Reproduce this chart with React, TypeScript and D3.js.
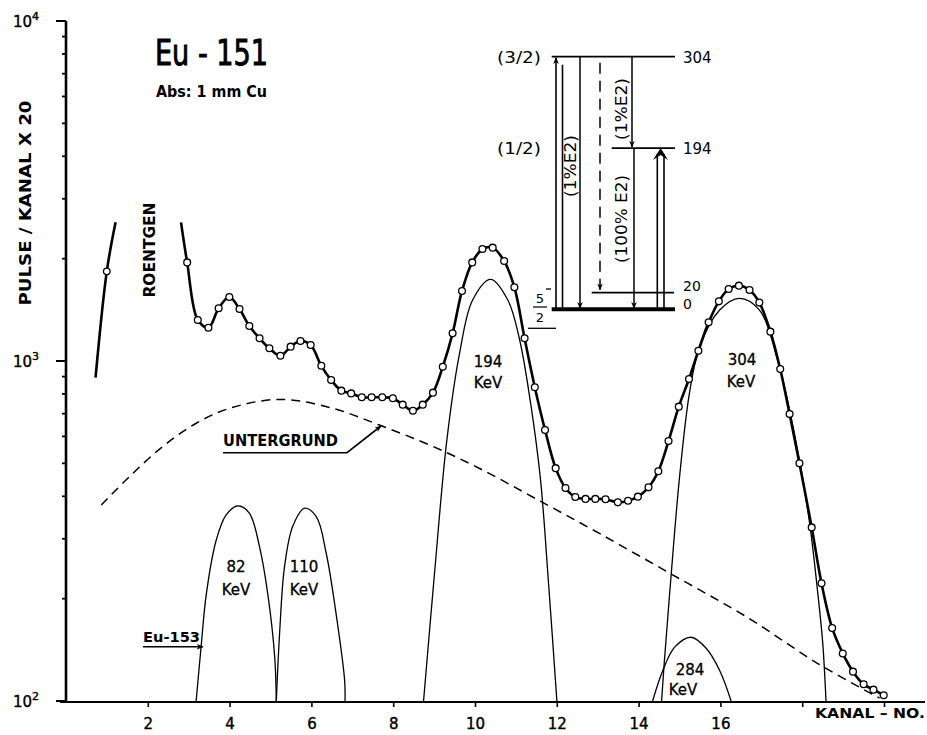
import React from "react";
import * as d3 from "d3";

// ---------- data ----------
const xTicks = [2, 4, 6, 8, 10, 12, 14, 16, 18, 20];
const xTickLabels = ["2", "4", "6", "8", "10", "12", "14", "16"];
const yMajor = [100, 1000, 10000];
const yMajorExp = ["2", "3", "4"];
const yMinor = [200, 300, 400, 500, 600, 700, 800, 900, 2000, 3000, 4000, 5000, 6000, 7000, 8000, 9000];

// measured spectrum (Eu-151)
const mainChannels = [2.95, 3.21, 3.47, 3.72, 3.98, 4.23, 4.47, 4.72, 4.96, 5.23, 5.48, 5.72, 5.97, 6.23, 6.47, 6.72, 6.96, 7.22, 7.46, 7.72, 7.98, 8.22, 8.47, 8.71, 8.96, 9.2, 9.44, 9.67, 9.92, 10.17, 10.42, 10.7, 10.95, 11.2, 11.45, 11.7, 11.96, 12.2, 12.44, 12.69, 12.93, 13.18, 13.48, 13.73, 13.97, 14.23, 14.47, 14.72, 14.97, 15.22, 15.45, 15.7, 15.95, 16.19, 16.44, 16.7, 16.94, 17.21, 17.45, 17.68, 17.92, 18.22, 18.46, 18.72, 18.98, 19.23, 19.49, 19.73, 19.98];
const mainCounts = [1950, 1320, 1253, 1429, 1543, 1422, 1268, 1166, 1090, 1036, 1102, 1145, 1114, 968, 879, 818, 803, 782, 782, 782, 777, 744, 714, 744, 807, 962, 1206, 1607, 1950, 2135, 2155, 1968, 1648, 1166, 837, 627, 484, 423, 398, 393, 393, 392, 384, 388, 399, 425, 474, 582, 734, 885, 1072, 1299, 1498, 1628, 1666, 1617, 1485, 1220, 947, 698, 500, 324, 222, 164, 138, 122, 112, 108, 104];
const mainStartChannel = 2.8;
const mainStartCount = 2558;

// Roentgen segment
const xrayChannels = [0.71, 0.985, 1.2];
const xrayCounts = [893, 1835, 2558];

// background (Untergrund)
const bgChannels = [0.85, 1.54, 2.35, 3.17, 3.99, 5.21, 6.51, 7.65, 8.88, 10.1, 11.5, 13.03, 14.82, 16.62, 18.41, 19.88];
const bgCounts = [377, 457, 560, 656, 726, 771, 726, 648, 566, 483, 392, 311, 235, 177, 128, 102];

// component peaks
const p82Channels = [3.17, 3.29, 3.42, 3.66, 3.9, 4.19, 4.47, 4.72, 4.92, 5.09, 5.13];
const p82Counts = [100, 144, 207, 297, 352, 375, 357, 284, 207, 135, 100];
const p110Channels = [5.13, 5.21, 5.33, 5.53, 5.82, 6.11, 6.35, 6.59, 6.8, 6.81];
const p110Counts = [100, 158, 248, 326, 369, 348, 272, 181, 115, 100];
const p194Channels = [8.73, 9.0, 9.3, 9.61, 9.93, 10.37, 10.79, 11.08, 11.36, 11.59, 11.78, 11.99];
const p194Counts = [100, 239, 586, 1053, 1512, 1739, 1512, 1153, 734, 447, 227, 100];
const p304Channels = [14.55, 14.62, 14.78, 14.99, 15.23, 15.48, 15.97, 16.45, 16.94, 17.43, 17.68, 17.92, 18.17, 18.37, 18.49, 18.57];
const p304Counts = [100, 132, 232, 457, 803, 1102, 1413, 1529, 1413, 962, 717, 511, 333, 207, 148, 100];
const p284Channels = [14.33, 14.58, 14.87, 15.27, 15.64, 15.97, 16.25];
const p284Counts = [100, 123, 144, 154, 143, 123, 100];

// level scheme
const levelEnergies = [304, 194, 20, 0];
const levelLabels = ["304", "194", "20", "0"];
const levelSpins = ["(3/2)", "(1/2)", "", ""];

const FONT = "'DejaVu Sans', sans-serif";

function zip(a: number[], b: number[]): [number, number][] {
  return a.map((v, i) => [v, b[i]]);
}

export default function App() {
  const x = d3.scaleLinear().domain([0, 20]).range([66.5, 884.5]);
  const y = d3.scaleLog().domain([100, 10000]).range([701, 21]);
  const ly = d3.scaleLinear().domain([0, 304]).range([309.3, 56.7]);

  const line = d3
    .line<[number, number]>()
    .x((d) => x(d[0]))
    .y((d) => y(d[1]))
    .curve(d3.curveCatmullRom.alpha(0.5));

  const mainPts = zip(mainChannels, mainCounts);
  const mainPath = line([[mainStartChannel, mainStartCount], ...mainPts]) || "";
  const xrayPts = zip(xrayChannels, xrayCounts);
  const xrayPath = line(xrayPts) || "";
  const bgPath = line(zip(bgChannels, bgCounts)) || "";
  const peaks = [
    zip(p82Channels, p82Counts),
    zip(p110Channels, p110Counts),
    zip(p194Channels, p194Counts),
    zip(p304Channels, p304Counts),
    zip(p284Channels, p284Counts),
  ];

  const axisX = 66;
  const axisY = 702;

  const levelExt: Record<number, [number, number]> = {
    304: [551.7, 675],
    194: [611.7, 675],
    20: [591.7, 674],
    0: [551.7, 675],
  };
  const levelLabelY: Record<number, number> = { 304: 6, 194: 6, 20: -1.5, 0: 0 };

  return (
    <svg width={927} height={735} style={{ position: "absolute", left: 0, top: 0, background: "#fff" }} fontFamily={FONT}>
      <defs>
        <marker id="ah" viewBox="0 0 10 10" refX="9" refY="5" markerWidth="7" markerHeight="9" orient="auto" markerUnits="userSpaceOnUse">
          <path d="M0,1 L10,5 L0,9 L3,5 Z" fill="#000" />
        </marker>
      </defs>
      <rect width={927} height={735} fill="#fff" />

      {/* axes */}
      <line x1={axisX} y1={y(10000)} x2={axisX} y2={axisY} stroke="#000" strokeWidth={2.6} />
      <line x1={60} y1={axisY} x2={925} y2={axisY} stroke="#000" strokeWidth={2.2} />
      {yMajor.map((v) => (
        <line key={"ym" + v} x1={axisX - 10} x2={axisX} y1={y(v)} y2={y(v)} stroke="#000" strokeWidth={2} />
      ))}
      {yMinor.map((v) => (
        <line key={"yn" + v} x1={axisX - 4} x2={axisX} y1={y(v)} y2={y(v)} stroke="#000" strokeWidth={1.8} />
      ))}
      {xTicks.map((t) => (
        <line key={"xt" + t} x1={x(t)} x2={x(t)} y1={axisY} y2={axisY + 5} stroke="#000" strokeWidth={1.6} />
      ))}
      {xTickLabels.map((l) => (
        <text key={"xl" + l} x={x(+l)} y={729} textAnchor="middle" fontSize={15} stroke="#000" strokeWidth={0.4}>
          {l}
        </text>
      ))}
      <text x={815} y={718} fontSize={14.5} fontWeight="bold" textLength={110} lengthAdjust="spacingAndGlyphs">
        KANAL – NO.
      </text>
      {yMajor.map((v, i) => (
        <text key={"yl" + v} x={13} y={y(v) + 6} fontSize={15} stroke="#000" strokeWidth={0.4}>
          10
          <tspan dy={-7} fontSize={11}>
            {yMajorExp[i]}
          </tspan>
        </text>
      ))}
      <text transform="translate(31,203) rotate(-90)" textAnchor="middle" fontSize={15} fontWeight="bold" textLength={205} lengthAdjust="spacingAndGlyphs">
        PULSE / KANAL  X  20
      </text>

      {/* background */}
      <path d={bgPath} fill="none" stroke="#000" strokeWidth={1.5} strokeDasharray="9,6" />

      {/* component peaks */}
      {peaks.map((p, i) => (
        <path key={"pk" + i} d={line(p) || ""} fill="none" stroke="#000" strokeWidth={1.3} />
      ))}

      {/* roentgen segment */}
      <path d={xrayPath} fill="none" stroke="#000" strokeWidth={2.6} />
      <circle cx={x(xrayPts[1][0])} cy={y(xrayPts[1][1])} r={3.3} fill="#fff" stroke="#000" strokeWidth={1.3} />

      {/* main spectrum */}
      <path d={mainPath} fill="none" stroke="#000" strokeWidth={2.6} />
      {mainPts.map((d, i) => (
        <circle key={"c" + i} cx={x(d[0])} cy={y(d[1])} r={3.4} fill="#fff" stroke="#000" strokeWidth={1.3} />
      ))}

      {/* titles */}
      <text x={155} y={65} fontSize={36} textLength={113} lengthAdjust="spacingAndGlyphs" stroke="#000" strokeWidth={1}>
        Eu - 151
      </text>
      <text x={156} y={97} fontSize={15} fontWeight="bold" textLength={111} lengthAdjust="spacingAndGlyphs">
        Abs:  1 mm Cu
      </text>
      <text transform="translate(155,250) rotate(-90)" textAnchor="middle" fontSize={15} fontWeight="bold" textLength={95} lengthAdjust="spacingAndGlyphs">
        ROENTGEN
      </text>

      {/* untergrund label */}
      <text x={223} y={446} fontSize={15} textLength={115} lengthAdjust="spacingAndGlyphs" fontWeight="bold">
        UNTERGRUND
      </text>
      <polyline points={`223,452.7 347,452.7 381,426`} fill="none" stroke="#000" strokeWidth={1.6} markerEnd="url(#ah)" />

      {/* Eu-153 label */}
      <text x={143} y={641.5} fontSize={14} fontWeight="bold" textLength={57} lengthAdjust="spacingAndGlyphs">
        Eu-153
      </text>
      <line x1={143} y1={646.7} x2={203} y2={646.7} stroke="#000" strokeWidth={1.6} markerEnd="url(#ah)" />

      {/* peak labels */}
      {[
        { t: "82", cx: 236, by: 571.7 },
        { t: "110", cx: 304, by: 571.7 },
        { t: "194", cx: 488, by: 366.7 },
        { t: "304", cx: 742, by: 365 },
        { t: "284", cx: 690, by: 675 },
      ].map((d) => (
        <text key={"pl" + d.t} x={d.cx} y={d.by} textAnchor="middle" fontSize={15} stroke="#000" strokeWidth={0.3}>
          {d.t}
        </text>
      ))}
      {[
        { cx: 236, by: 595 },
        { cx: 304, by: 595 },
        { cx: 488, by: 388.3 },
        { cx: 741, by: 386.7 },
        { cx: 683, by: 695 },
      ].map((d, i) => (
        <text key={"kv" + i} x={d.cx} y={d.by} textAnchor="middle" fontSize={15} stroke="#000" strokeWidth={0.3}>
          KeV
        </text>
      ))}

      {/* level scheme */}
      {levelEnergies.map((e, i) => (
        <g key={"lv" + e}>
          <line x1={levelExt[e][0]} x2={levelExt[e][1]} y1={ly(e)} y2={ly(e)} stroke="#000" strokeWidth={e === 0 ? 4 : 1.8} />
          <text x={683} y={ly(e) + levelLabelY[e]} fontSize={e === 20 || e === 0 ? 14 : 15}>
            {levelLabels[i]}
          </text>
          {levelSpins[i] && (
            <text x={497} y={ly(e) + 6} fontSize={15} textLength={44} lengthAdjust="spacingAndGlyphs">
              {levelSpins[i]}
            </text>
          )}
        </g>
      ))}
      {/* 5/2 ground spin */}
      <text x={540} y={303} textAnchor="middle" fontSize={13}>5</text>
      <line x1={533} x2={547} y1={307} y2={307} stroke="#000" strokeWidth={1.2} />
      <text x={540} y={322} textAnchor="middle" fontSize={13}>2</text>
      <line x1={546} x2={551} y1={289} y2={289} stroke="#000" strokeWidth={1.3} />
      <line x1={528} x2={556} y1={328.3} y2={328.3} stroke="#000" strokeWidth={1.3} />

      {/* transitions */}
      {/* 0 -> 304 excitation (double line up) */}
      <line x1={556} x2={556} y1={ly(0)} y2={ly(304) + 1} stroke="#000" strokeWidth={1.6} markerEnd="url(#ah)" />
      <line x1={562.5} x2={562.5} y1={ly(0)} y2={ly(304) + 8} stroke="#000" strokeWidth={1.6} />
      {/* 304 -> 0 */}
      <line x1={580} x2={580} y1={ly(304)} y2={ly(0) - 1} stroke="#000" strokeWidth={1.5} markerEnd="url(#ah)" />
      <text transform="translate(576,166) rotate(-90)" textAnchor="middle" fontSize={15} textLength={62} lengthAdjust="spacingAndGlyphs">
        (1%E2)
      </text>
      {/* 304 -> 20 dashed */}
      <line x1={600} x2={600} y1={ly(304) + 6} y2={ly(20) - 3} stroke="#000" strokeWidth={1.5} strokeDasharray="11,7" markerEnd="url(#ah)" />
      {/* 304 -> 194 */}
      <line x1={632} x2={632} y1={ly(304)} y2={ly(194) - 1} stroke="#000" strokeWidth={1.5} markerEnd="url(#ah)" />
      <text transform="translate(627,109) rotate(-90)" textAnchor="middle" fontSize={15} textLength={62} lengthAdjust="spacingAndGlyphs">
        (1%E2)
      </text>
      {/* 194 -> 0 */}
      <line x1={634} x2={634} y1={ly(194)} y2={ly(0) - 1} stroke="#000" strokeWidth={1.5} markerEnd="url(#ah)" />
      <text transform="translate(627,219) rotate(-90)" textAnchor="middle" fontSize={15} textLength={88} lengthAdjust="spacingAndGlyphs">
        (100% E2)
      </text>
      {/* 0 -> 194 excitation (double line up) */}
      <line x1={657.3} x2={657.3} y1={ly(0)} y2={ly(194) + 6} stroke="#000" strokeWidth={1.6} />
      <line x1={664} x2={664} y1={ly(0)} y2={ly(194) + 6} stroke="#000" strokeWidth={1.6} />
      <path d={`M653,${ly(194) + 12} L660.6,${ly(194)} L668,${ly(194) + 12} L660.6,${ly(194) + 7} Z`} fill="#000" />
    </svg>
  );
}
